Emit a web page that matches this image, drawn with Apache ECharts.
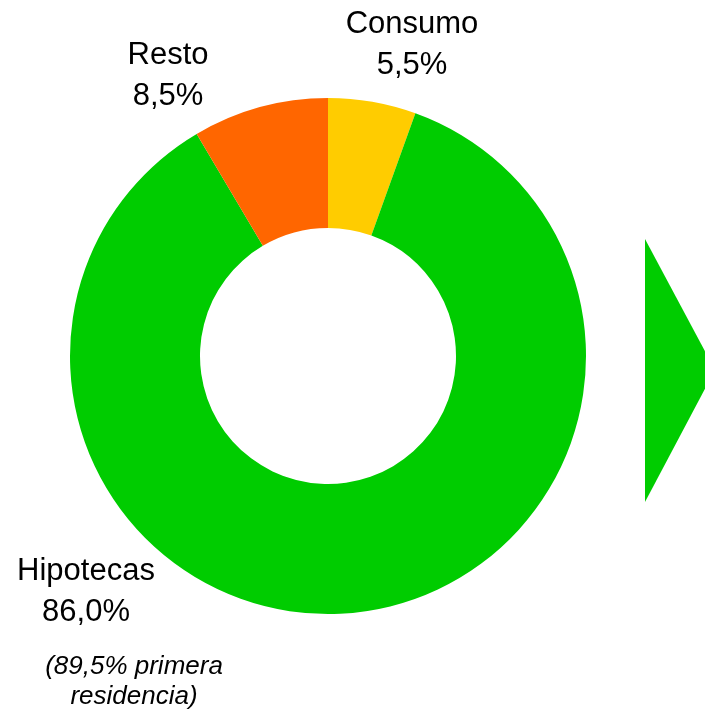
<!DOCTYPE html>
<html>
<head>
<meta charset="utf-8">
<script src="https://cdn.jsdelivr.net/npm/echarts@6/dist/echarts.min.js"></script>
<style>
html,body{margin:0;padding:0;background:#fff;}
#chart{width:705px;height:712px;}
</style>
</head>
<body>
<div id="chart"></div>
<script>
// Data
var categories = ['Consumo', 'Hipotecas', 'Resto'];
var values = [5.5, 86.0, 8.5];
var note = '(89,5% primera\nresidencia)';

// Styling / layout (not data)
var colors = ['#FFCC00', '#00CC00', '#FF6600'];
var labelPos = [[412, 45], [86, 592], [168, 76]];

var chart = echarts.init(document.getElementById('chart'), null, {renderer: 'canvas'});
var fontFamily = '"Liberation Sans", Arial, sans-serif';

chart.setOption({
  backgroundColor: '#ffffff',
  animation: false,
  series: [{
    type: 'pie',
    center: [328, 356],
    radius: [128, 258],
    startAngle: 90,
    clockwise: true,
    avoidLabelOverlap: false,
    silent: true,
    data: categories.map(function (c, i) {
      return { name: c, value: values[i], itemStyle: { color: colors[i] } };
    }),
    itemStyle: { borderWidth: 0 },
    label: {
      show: true,
      position: 'outside',
      formatter: function (p) {
        return p.name + '\n' + p.value.toFixed(1).replace('.', ',') + '%';
      },
      color: '#000',
      fontFamily: fontFamily,
      fontSize: 31,
      lineHeight: 41,
      align: 'center'
    },
    labelLine: { show: false },
    labelLayout: function (params) {
      var p = labelPos[params.dataIndex];
      return { x: p[0], y: p[1], align: 'center', verticalAlign: 'middle', hideOverlap: false };
    }
  }],
  graphic: [
    {
      type: 'text',
      left: null,
      x: 134,
      y: 682,
      style: {
        text: note,
        font: 'italic 26px ' + fontFamily,
        fill: '#000',
        align: 'center',
        verticalAlign: 'middle',
        lineHeight: 30
      }
    },
    {
      type: 'polygon',
      shape: { points: [[645, 239], [645, 502], [715, 370]] },
      style: { fill: '#00CC00' }
    }
  ]
});
</script>
</body>
</html>
